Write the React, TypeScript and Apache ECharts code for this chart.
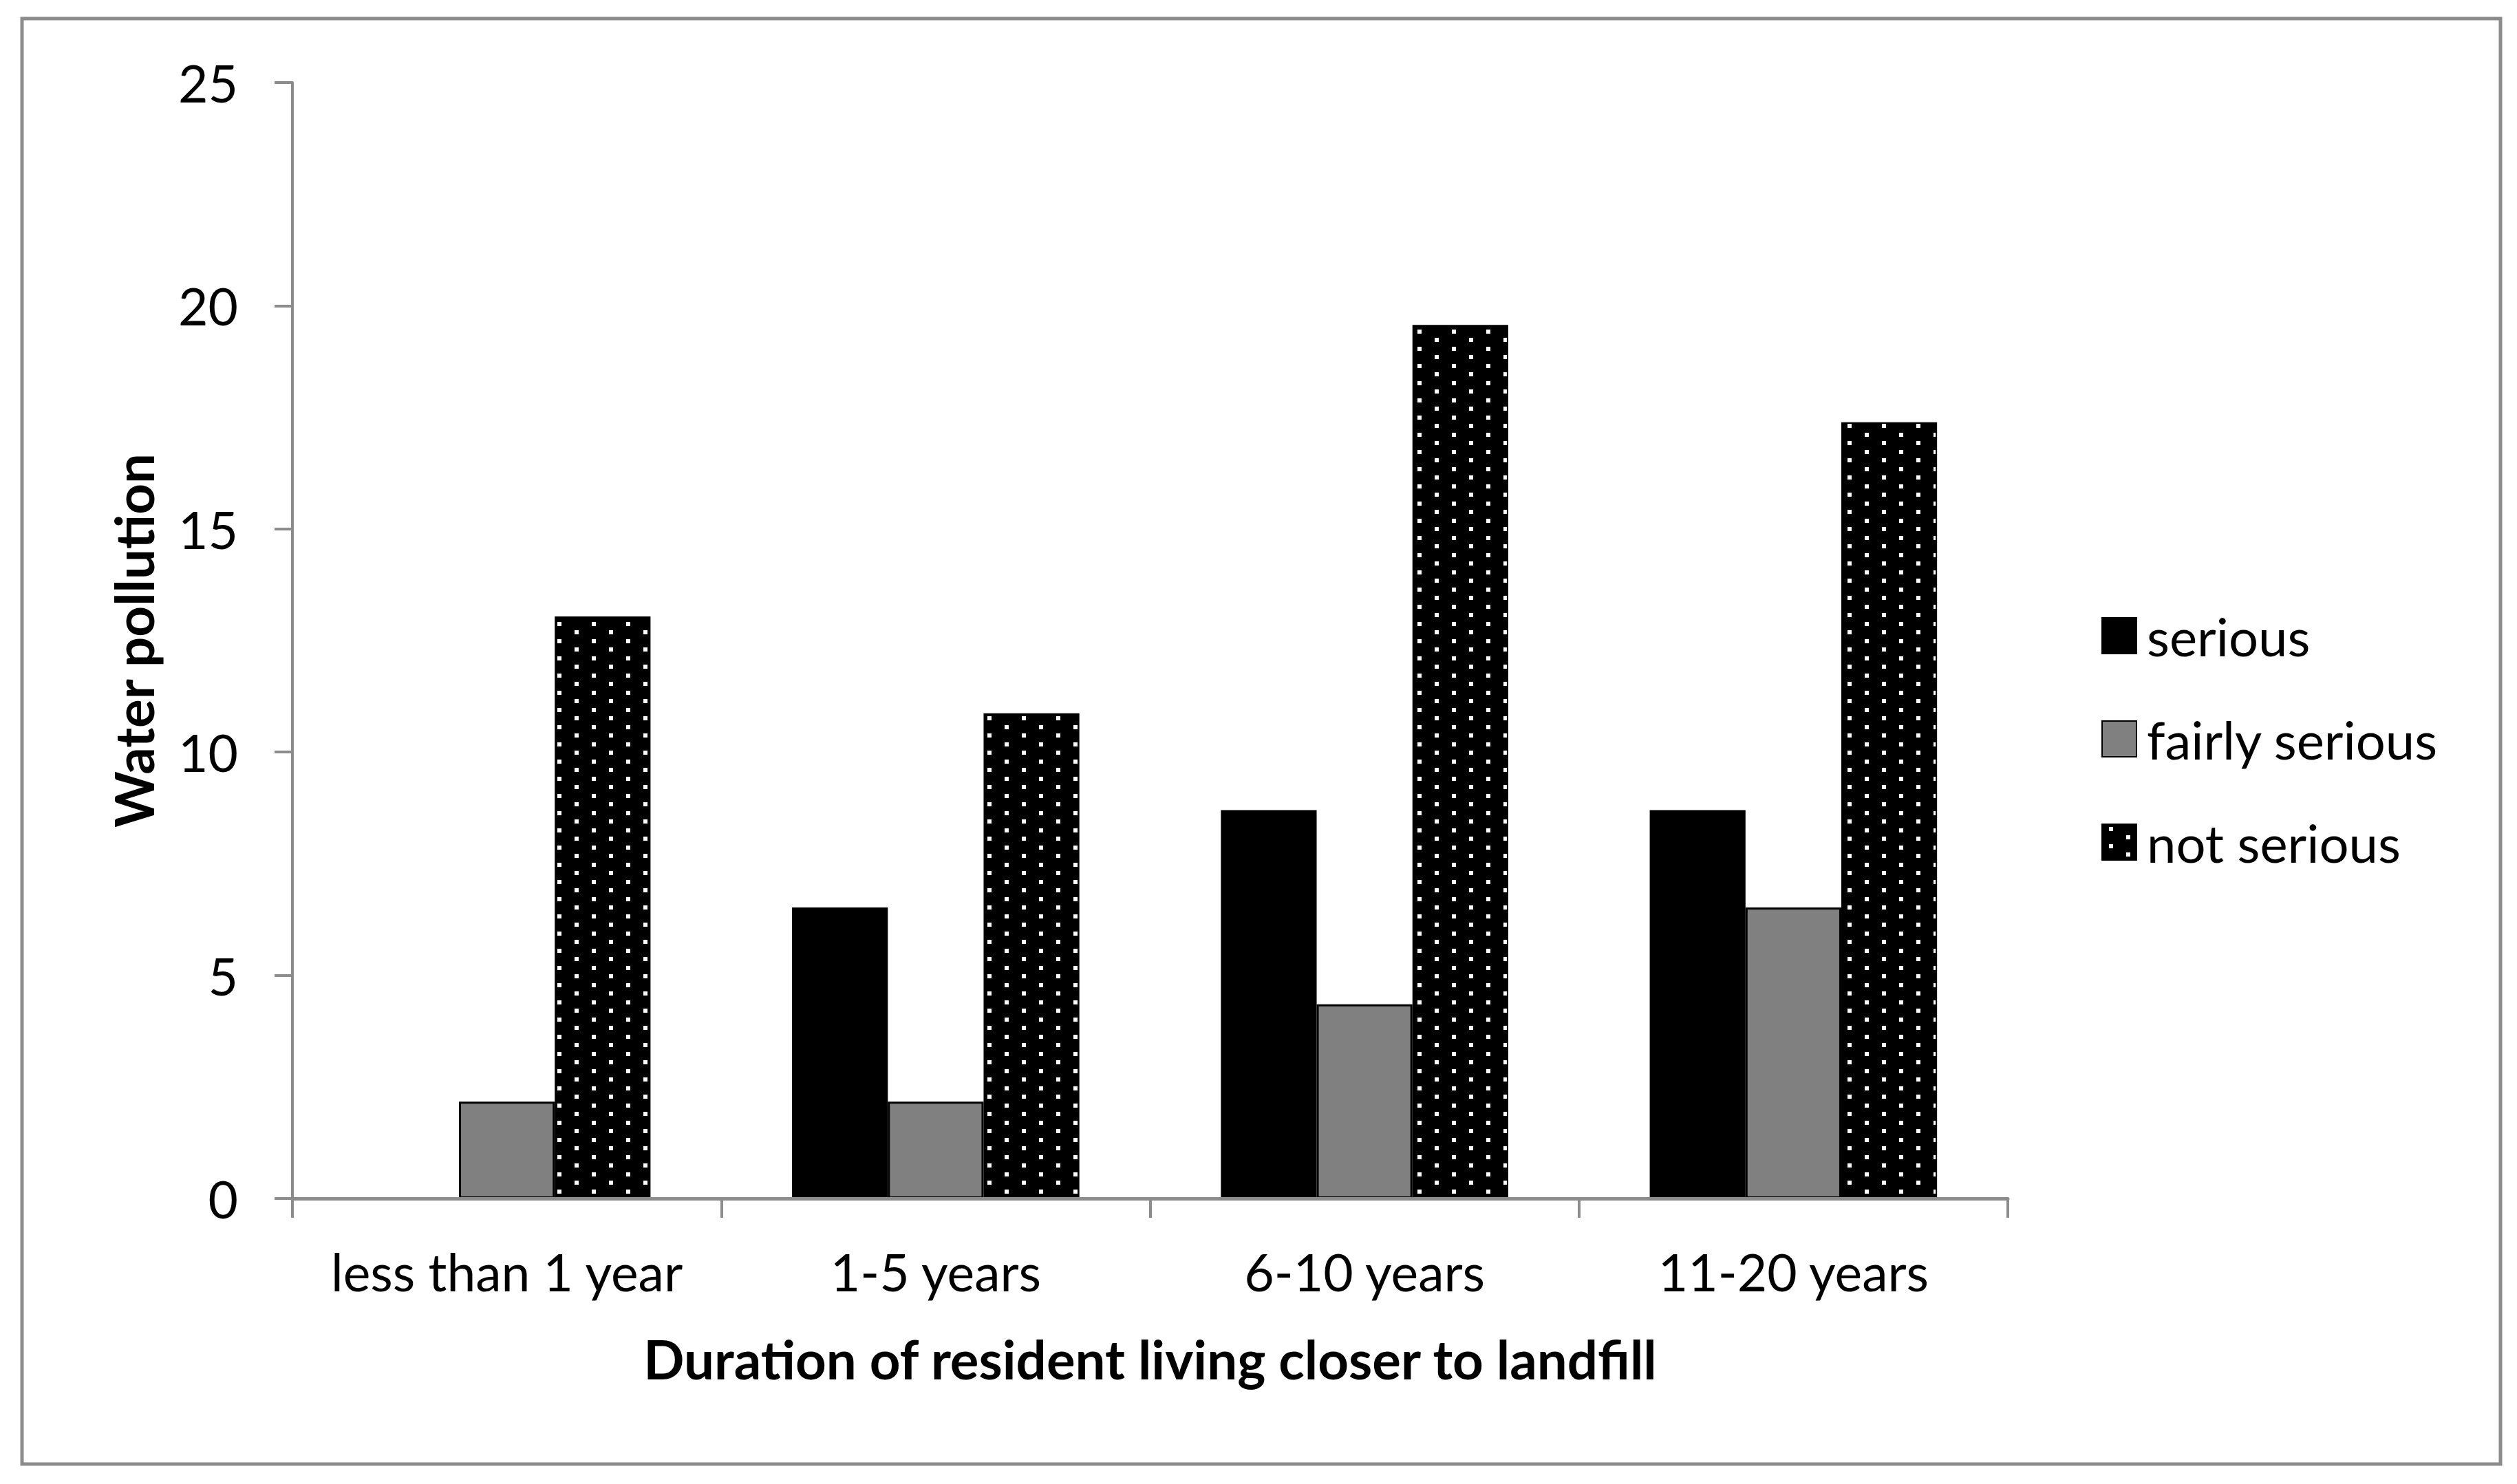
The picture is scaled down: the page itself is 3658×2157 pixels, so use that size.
import React, { useEffect, useRef } from "react";
import * as echarts from "echarts";

const categories = ["less than 1 year", "1-5 years", "6-10 years", "11-20 years"];
const seriesNames = ["serious", "fairly serious", "not serious"];
const seriousValues = [0, 6.52, 8.7, 8.7];
const fairlySeriousValues = [2.17, 2.17, 4.35, 6.52];
const notSeriousValues = [13.04, 10.87, 19.57, 17.39];
const yMin = 0;
const yMax = 25;
const yInterval = 5;

const FONT = "Lato";
const AXIS_GRAY = "#8c8c8c";

function makeDots() {
  const c = document.createElement("canvas");
  c.width = 50;
  c.height = 25;
  const ctx = c.getContext("2d")!;
  ctx.fillStyle = "#000";
  ctx.fillRect(0, 0, 50, 25);
  ctx.fillStyle = "#fff";
  ctx.fillRect(10, 4, 6, 6);
  ctx.fillRect(35, 16, 6, 6);
  return c;
}

export default function App() {
  const ref = useRef<HTMLDivElement>(null);
  useEffect(() => {
    document.body.style.margin = "0";
    const chart = echarts.init(ref.current!, null, { renderer: "svg" });
    const dots = makeDots();
    const pattern: any = { image: dots, repeat: "repeat", imageWidth: 50, imageHeight: 25 };
    chart.setOption({
      animation: false,
      backgroundColor: "#fff",
      graphic: [
        {
          type: "rect",
          shape: { x: 32, y: 27, width: 3602, height: 2101 },
          style: { fill: "none", stroke: AXIS_GRAY, lineWidth: 5 },
          z: -1,
        },
      ],
      grid: { left: 425, right: 740, top: 120, bottom: 415, containLabel: false },
      legend: {
        orient: "vertical",
        left: 3049,
        top: 881,
        itemWidth: 50,
        itemHeight: 52,
        itemGap: 74,
        icon: "rect",
        data: seriesNames,
        textStyle: {
          fontFamily: FONT,
          fontSize: 76,
          color: "#000",
          lineHeight: 76,
          padding: [0, 0, 0, 10],
        },
      },
      xAxis: {
        type: "category",
        data: categories,
        z: 5,
        name: "Duration of resident living closer to landfill",
        nameLocation: "middle",
        nameGap: 194,
        nameTextStyle: { fontFamily: FONT, fontSize: 78, fontWeight: "bold", color: "#000" },
        axisLine: { lineStyle: { color: AXIS_GRAY, width: 5 } },
        axisTick: { show: true, length: 28, lineStyle: { color: AXIS_GRAY, width: 4 } },
        axisLabel: { fontFamily: FONT, fontSize: 75, color: "#000", margin: 68, interval: 0 },
        splitLine: { show: false },
      },
      yAxis: {
        type: "value",
        min: yMin,
        max: yMax,
        interval: yInterval,
        name: "Water pollution",
        nameLocation: "middle",
        nameGap: 192,
        nameTextStyle: { fontFamily: FONT, fontSize: 78, fontWeight: "bold", color: "#000" },
        axisLine: { show: true, lineStyle: { color: AXIS_GRAY, width: 4 } },
        axisTick: { show: true, length: 26, lineStyle: { color: AXIS_GRAY, width: 4 } },
        axisLabel: { fontFamily: FONT, fontSize: 75, color: "#000", margin: 79 },
        splitLine: { show: false },
      },
      series: [
        {
          name: seriesNames[0],
          type: "bar",
          data: seriousValues,
          barGap: "0%",
          barCategoryGap: "33%",
          itemStyle: { color: "#000", borderColor: "#000", borderWidth: 2 },
        },
        {
          name: seriesNames[1],
          type: "bar",
          data: fairlySeriousValues,
          barGap: "0%",
          barCategoryGap: "33%",
          itemStyle: { color: "#808080", borderColor: "#000", borderWidth: 3 },
        },
        {
          name: seriesNames[2],
          type: "bar",
          data: notSeriousValues,
          barGap: "0%",
          barCategoryGap: "33%",
          itemStyle: { color: pattern, borderColor: "#000", borderWidth: 2 },
        },
      ],
    });
    return () => chart.dispose();
  }, []);
  return <div ref={ref} style={{ width: 3658, height: 2157 }} />;
}
